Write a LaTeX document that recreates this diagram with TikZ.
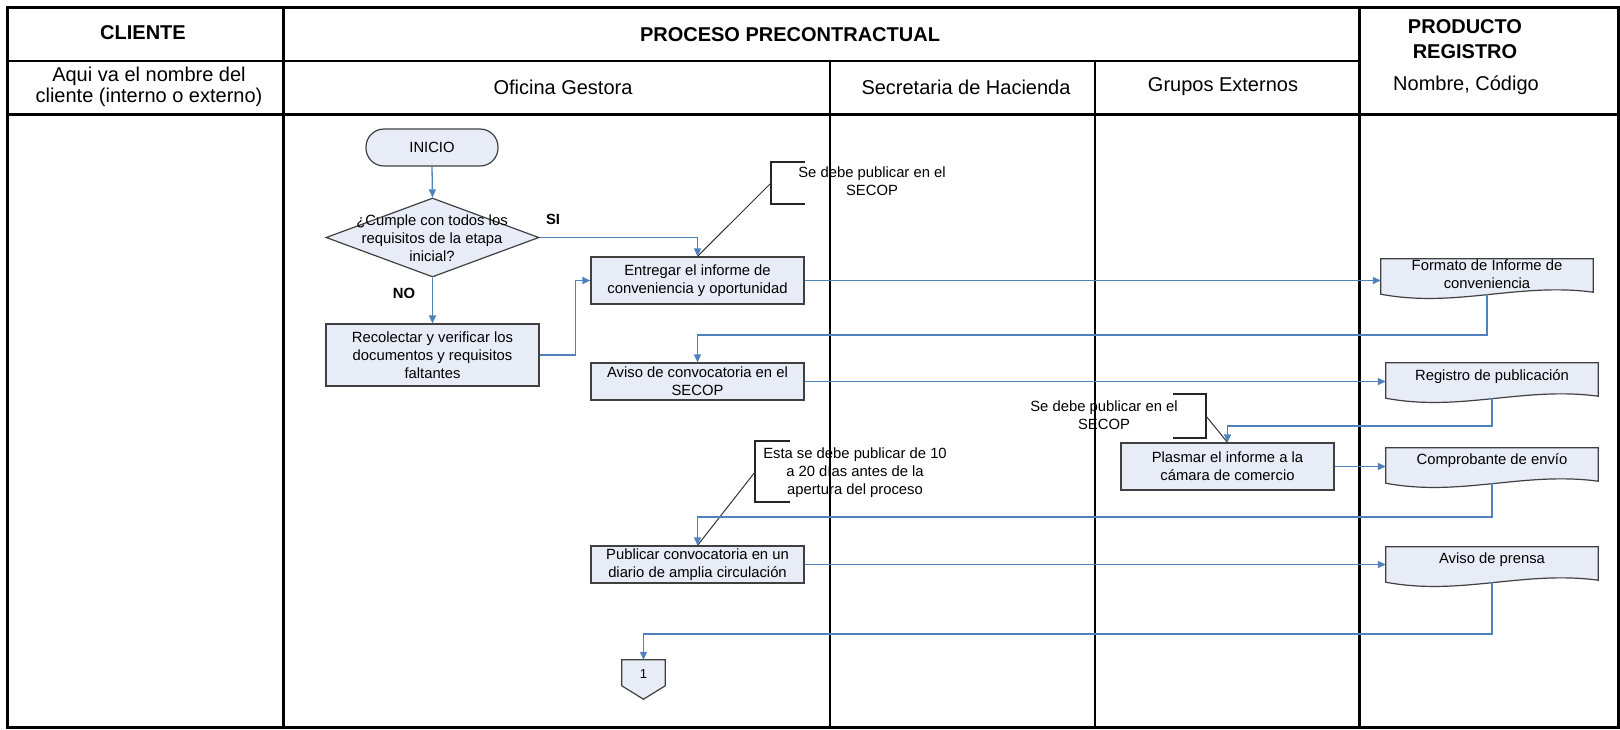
\documentclass[tikz,border=0pt]{standalone}
\usepackage{fontspec}
\setmainfont{Liberation Sans}
\usetikzlibrary{arrows.meta,calc,shapes.geometric,backgrounds}
\definecolor{flowfill}{RGB}{232,236,246}
\definecolor{flowline}{RGB}{79,129,189}
\definecolor{boxedge}{RGB}{64,64,64}
\begin{document}
\begin{tikzpicture}[x=1pt,y=-1pt,
  hdr/.style={font=\fontsize{20}{25}\selectfont\bfseries, align=center, inner sep=0pt},
  sub/.style={font=\fontsize{20}{21}\selectfont, align=center, inner sep=0pt},
  procbox/.style={draw=boxedge, line width=1.2pt, fill=flowfill, minimum width=213pt,
    inner sep=2pt, align=center, font=\fontsize{14.8}{18}\selectfont},
  term/.style={procbox, minimum width=132pt, minimum height=37pt, rounded corners=18pt},
  decision/.style={diamond, draw=boxedge, line width=1.2pt, fill=flowfill,
    minimum width=213pt, minimum height=79pt, inner sep=0pt},
  flowtext/.style={align=center, inner sep=0pt, font=\fontsize{14.8}{18}\selectfont},
  lbl/.style={inner sep=0pt, font=\fontsize{14.8}{18}\selectfont\bfseries},
  docnode/.style={minimum width=212pt, minimum height=35pt, inner sep=0pt},
  docshape/.style={draw=boxedge, line width=1.2pt, fill=flowfill},
  flow/.style={draw=flowline, line width=1.3pt, -{Triangle[length=8pt,width=7pt]}},
  noteline/.style={draw=black!80, line width=1pt},
  bracket/.style={draw=black!85, line width=1.3pt},
  frame/.style={line width=3pt},
  lane/.style={line width=1.4pt}
]
\useasboundingbox (0,0) rectangle (1620,729);

% swimlane table
\draw[frame] (7,7) rectangle (1618,727);
\draw[frame] (283,7) -- (283,727);
\draw[frame] (1359,7) -- (1359,727);
\draw[frame] (7,114) -- (1618,114);
\draw[lane] (7,61) -- (1359,61);
\draw[lane] (830,61) -- (830,727);
\draw[lane] (1095,61) -- (1095,727);

% headings
\node[hdr] (hcli) at (143,33) {CLIENTE};
\node[hdr] (hproc) at (790,35) {PROCESO PRECONTRACTUAL};
\node[hdr] (hprod) at (1465,39.5) {PRODUCTO\\REGISTRO};
\node[sub] (hcli2) at (149,86.5) {Aqui va el nombre del\\cliente (interno o externo)};
\node[sub] (hofi) at (563,87) {Oficina Gestora};
\node[sub] (hsec) at (966,87) {Secretaria de Hacienda};
\node[sub] (hgru) at (1223,87) {Grupos Externos};
\node[sub] (hnom) at (1466,85) {Nombre, Código};

% process steps
\node[term] (start) at (432,147.5) {INICIO};
\node[decision] (dec) at (432.5,237.5) {};
\node[flowtext] (dectxt) at (432,238) {¿Cumple con todos los\\requisitos de la etapa\\inicial?};
\node[lbl] (si) at (553,219) {SI};
\node[lbl] (no) at (404,293) {NO};
\node[procbox, minimum height=47pt] (entregar) at (697.5,280.5) {Entregar el informe de\\conveniencia y oportunidad};
\node[procbox, minimum height=62pt] (recolectar) at (432.5,355) {Recolectar y verificar los\\documentos y requisitos\\faltantes};
\node[procbox, minimum height=37pt] (aviso) at (697.5,381.5) {Aviso de convocatoria en el\\SECOP};
\node[procbox, minimum height=37pt] (publicar) at (697.5,564.5) {Publicar convocatoria en un\\diario de amplia circulación};
\node[procbox, minimum height=47pt] (plasmar) at (1227.5,466.5) {Plasmar el informe a la\\cámara de comercio};

% documents produced
\node[docnode] (fmt) at (1487,276.5) {};
\node[docnode] (reg) at (1492,380.5) {};
\node[docnode] (cmp) at (1492,465.5) {};
\node[docnode] (prs) at (1492,564.5) {};
\node[flowtext] (fmtt) at (1487,274.5) {Formato de Informe de\\conveniencia};
\node[flowtext] (regt) at (1492,377) {Registro de publicación};
\node[flowtext] (cmpt) at (1492,461) {Comprobante de envío};
\node[flowtext] (prst) at (1492,560) {Aviso de prensa};

% off-page connector
\node[minimum width=43pt, minimum height=39pt, inner sep=0pt] (offp) at (643.5,679.5) {};
\node[inner sep=0pt, font=\fontsize{13}{15}\selectfont] (offpt) at (643.5,674) {1};

\begin{pgfonlayer}{background}
  \foreach \d in {fmt,reg,cmp,prs}{
    \draw[docshape] (\d.north west) -- (\d.north east) -- ($(\d.south east)+(0,-2)$)
      .. controls ($(\d.south west)!0.65!(\d.south east)+(0,-12)$)
         and ($(\d.south west)!0.35!(\d.south east)+(0,14)$) .. (\d.south west) -- cycle;
  }
  \draw[docshape] (offp.north west) -- (offp.north east) -- ($(offp.north east)+(0,26)$)
    -- (offp.south) -- ($(offp.north west)+(0,26)$) -- cycle;
\end{pgfonlayer}

% annotations
\coordinate (b1) at (771,183);
\coordinate (b2) at (1206,416);
\coordinate (b3) at (755,472);
\draw[bracket] ($(b1)+(34,-21)$) -- ($(b1)+(0,-21)$) -- ($(b1)+(0,21)$) -- ($(b1)+(34,21)$);
\draw[bracket] ($(b2)+(-33,-22)$) -- ($(b2)+(0,-22)$) -- ($(b2)+(0,22)$) -- ($(b2)+(-33,22)$);
\draw[bracket] ($(b3)+(35,-31)$) -- ($(b3)+(0,-31)$) -- ($(b3)+(0,30)$) -- ($(b3)+(35,30)$);
\node[flowtext] (n1) at (872,181.5) {Se debe publicar en el\\SECOP};
\node[flowtext] (n2) at (1104,415) {Se debe publicar en el\\SECOP};
\node[flowtext] (n3) at (855,472.5) {Esta se debe publicar de 10\\a 20 días antes de la\\apertura del proceso};
\draw[noteline] (b1) -- (entregar.north);
\draw[noteline] (b2) -- (plasmar.north);
\draw[noteline] (b3) -- (publicar.north);

% return levels of the feedback connectors
\coordinate (lvA) at (0,335);
\coordinate (lvB) at (0,426);
\coordinate (lvC) at (0,517);
\coordinate (lvD) at (0,634);

% connectors
\draw[flow] (start.south) -- (dec.north);
\draw[flow] (dec.east) -| (entregar.north);
\draw[flow] (dec.south) -- (recolectar.north);
\draw[flow] (recolectar.east) -- ++(36,0) |- (entregar.west);
\draw[flow] (entregar.east) -- (entregar.east -| fmt.west);
\draw[flow] (fmt.south) |- (aviso.north |- lvA) -- (aviso.north);
\draw[flow] (aviso.east) -- (aviso.east -| reg.west);
\draw[flow] (reg.south) |- (plasmar.north |- lvB) -- (plasmar.north);
\draw[flow] (plasmar.east) -- (plasmar.east -| cmp.west);
\draw[flow] (cmp.south) |- (publicar.north |- lvC) -- (publicar.north);
\draw[flow] (publicar.east) -- (publicar.east -| prs.west);
\draw[flow] (prs.south) |- (offp.north |- lvD) -- (offp.north);
\end{tikzpicture}
\end{document}
